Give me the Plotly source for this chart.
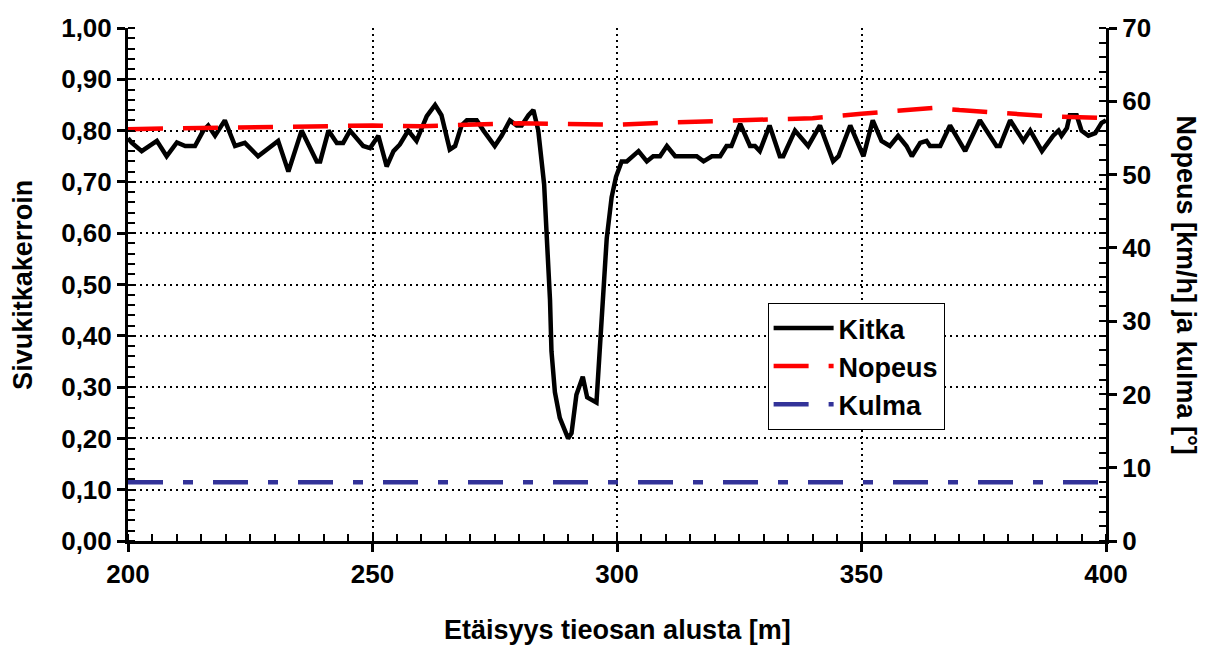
import plotly.graph_objects as go

# Kitka (sivukitkakerroin) - left axis
kitka_x = [200, 200.7, 202.8, 204.2, 205.9, 207.9, 210.0, 211.7, 213.7, 215.4, 216.4, 217.8, 219.8,
           221.9, 223.9, 226.6, 230.7, 232.8, 235.5, 238.6, 239.3, 241.0, 242.7, 244.0, 245.4, 248.1,
           249.5, 251.2, 252.9, 254.3, 255.6, 257.3, 259.0, 261.1, 262.8, 264.1, 265.8, 266.9, 268.2,
           269.3, 271.3, 272.7, 275.0, 276.4, 278.1, 279.5, 280.5, 281.9, 282.9, 283.9, 284.6, 285.1,
           285.6, 286.3, 286.6, 287.3, 288.3, 290.0, 290.7, 291.7, 293.0, 293.9, 295.8, 296.5, 297.2,
           297.9, 298.9, 299.8, 300.95, 302.0, 304.4, 306.1, 307.4, 308.8, 310.2, 311.9, 316.3, 317.7,
           319.4, 321.1, 322.4, 323.4, 325.2, 327.2, 328.2, 329.2, 331.2, 333.3, 334.0, 336.4, 339.1,
           341.5, 344.2, 345.3, 347.7, 350.4, 352.3, 354.1, 355.8, 357.5, 359.2, 360.3, 362.0, 363.3,
           364.0, 366.1, 368.1, 371.2, 374.2, 377.6, 378.3, 380.4, 383.1, 384.5, 386.9, 389.2, 390.3,
           390.9, 392.0, 392.6, 394.0, 395.0, 396.4, 397.8, 399.1, 400]
kitka_y = [0.785, 0.777, 0.76, 0.77, 0.78, 0.75, 0.777, 0.77, 0.77, 0.80, 0.81, 0.79, 0.82,
           0.77, 0.776, 0.75, 0.78, 0.72, 0.80, 0.74, 0.74, 0.80, 0.776, 0.776, 0.80, 0.77,
           0.766, 0.79, 0.73, 0.76, 0.773, 0.80, 0.78, 0.828, 0.85, 0.83, 0.763, 0.77, 0.81,
           0.82, 0.82, 0.80, 0.77, 0.79, 0.82, 0.81, 0.81, 0.83, 0.84, 0.80, 0.74, 0.695,
           0.60, 0.47, 0.37, 0.29, 0.24, 0.20, 0.21, 0.285, 0.32, 0.28, 0.27, 0.37, 0.49,
           0.59, 0.67, 0.71, 0.74, 0.74, 0.76, 0.74, 0.75, 0.75, 0.77, 0.75, 0.75, 0.74,
           0.75, 0.75, 0.77, 0.77, 0.813, 0.77, 0.77, 0.76, 0.81, 0.75, 0.75, 0.80, 0.77,
           0.81, 0.74, 0.75, 0.81, 0.75, 0.82, 0.78, 0.77, 0.79, 0.77, 0.75, 0.776, 0.78,
           0.77, 0.77, 0.81, 0.76, 0.82, 0.77, 0.77, 0.82, 0.78, 0.80, 0.76, 0.79, 0.80,
           0.79, 0.805, 0.83, 0.83, 0.80, 0.79, 0.795, 0.815, 0.82]

# Nopeus [km/h] - right axis
nopeus_x = [200, 210, 220, 230, 240, 250, 260, 270, 280, 290, 300, 310, 320, 330, 340, 350, 360, 365, 370, 380, 390, 400]
nopeus_y = [56.2, 56.3, 56.4, 56.6, 56.7, 56.7, 56.6, 56.8, 57.0, 56.9, 56.8, 57.1, 57.3, 57.4, 57.7, 58.3, 58.8, 59.1, 58.8, 58.3, 57.9, 57.7]

# Kulma [deg] - right axis
kulma_x = [200, 400]
kulma_y = [8, 8]

x_ticks = [200, 250, 300, 350, 400]

FONT = "Arial, Liberation Sans, sans-serif"
FS = 26

fig = go.Figure()
fig.add_trace(go.Scatter(x=kitka_x, y=kitka_y, mode="lines", name="Kitka",
                         line=dict(color="black", width=4.5)))
fig.add_trace(go.Scatter(x=nopeus_x, y=nopeus_y, mode="lines", name="Nopeus", yaxis="y2",
                         line=dict(color="#ff0000", width=4.5, dash="35px,20px")))
fig.add_trace(go.Scatter(x=kulma_x, y=kulma_y, mode="lines", name="Kulma", yaxis="y2",
                         line=dict(color="#333399", width=4.5, dash="35px,20px,10px,20px")))

tickfont = dict(family=FONT, size=FS, color="black", weight="bold")

fig.update_layout(
    width=1208, height=646,
    margin=dict(l=128, r=102, t=28, b=105),
    paper_bgcolor="white", plot_bgcolor="white",
    separators=", ",
    showlegend=True,
    legend=dict(x=0.654, y=0.464, xanchor="left", yanchor="top",
                bgcolor="white", bordercolor="black", borderwidth=1,
                font=dict(family=FONT, size=27, color="black", weight="bold"),
                itemwidth=60, tracegroupgap=0),
    xaxis=dict(range=[200, 400], tickvals=x_ticks, showgrid=True, gridcolor="black",
               griddash="2px,4px", gridwidth=2, zeroline=False,
               showline=True, linecolor="black", linewidth=3,
               ticks="outside", ticklen=8, tickwidth=3, tickcolor="black",
               tickfont=tickfont,
               minor=dict(dtick=5, ticks="inside", ticklen=7, tickwidth=2, tickcolor="black", showgrid=False)),
    yaxis=dict(range=[0, 1], dtick=0.1, tickformat=".2f", showgrid=True, gridcolor="black",
               griddash="2px,4px", gridwidth=2, zeroline=False,
               showline=True, linecolor="black", linewidth=3,
               ticks="outside", ticklen=8, tickwidth=3, tickcolor="black",
               tickfont=tickfont,
               minor=dict(dtick=0.02, ticks="inside", ticklen=7, tickwidth=2, tickcolor="black", showgrid=False)),
    yaxis2=dict(range=[0, 70], dtick=10, overlaying="y", side="right", showgrid=False, zeroline=False,
                showline=True, linecolor="black", linewidth=3,
                ticks="outside", ticklen=8, tickwidth=3, tickcolor="black",
                tickfont=tickfont,
                minor=dict(dtick=2, ticks="inside", ticklen=7, tickwidth=2, tickcolor="black", showgrid=False)),
    annotations=[
        dict(text="Sivukitkakerroin", xref="paper", yref="paper", x=-0.108, y=0.5,
             xanchor="center", yanchor="middle", textangle=-90, showarrow=False,
             font=dict(family=FONT, size=27, color="black", weight="bold")),
        dict(text="Nopeus [km/h] ja kulma [°]", xref="paper", yref="paper", x=1.0, xshift=80, y=0.5,
             xanchor="center", yanchor="middle", textangle=90, showarrow=False,
             font=dict(family=FONT, size=27, color="black", weight="bold")),
        dict(text="Etäisyys tieosan alusta [m]", xref="paper", yref="paper", x=0.5, y=0, yshift=-89,
             xanchor="center", yanchor="middle", showarrow=False,
             font=dict(family=FONT, size=27, color="black", weight="bold")),
    ],
)

fig.write_html("out.html")
